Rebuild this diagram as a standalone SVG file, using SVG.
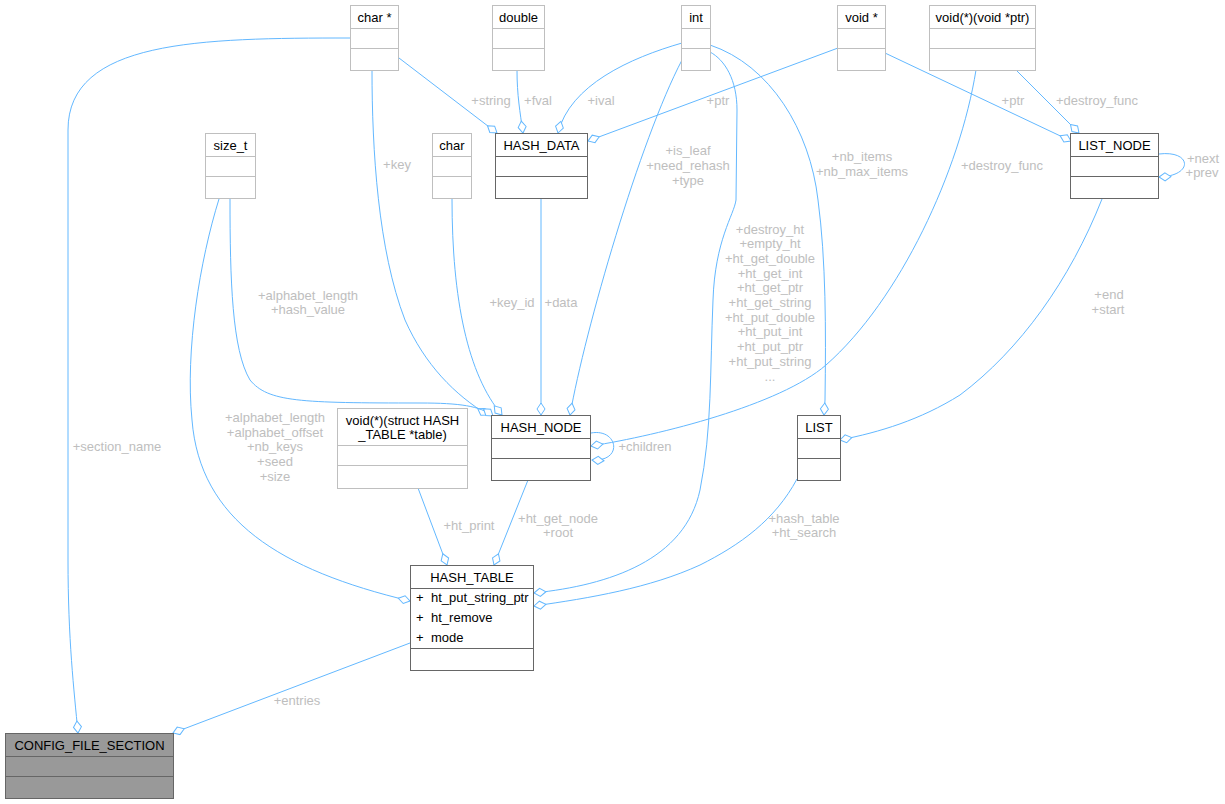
<svg xmlns="http://www.w3.org/2000/svg" width="1225" height="804" viewBox="0 0 1225 804">
<style>
.bg{fill:#ffffff}
.ext rect{fill:#ffffff;stroke:#bfbfbf;stroke-width:1}
.ext line{stroke:#bfbfbf;stroke-width:1}
.cls rect{fill:#ffffff;stroke:#666666;stroke-width:1}
.cls line{stroke:#666666;stroke-width:1}
.main rect{fill:#999999;stroke:#666666;stroke-width:1}
.main line{stroke:#666666;stroke-width:1}
text{font-family:"Liberation Sans",Arial,sans-serif;font-size:13px}
.t{fill:#000000;text-anchor:middle}
.m{fill:#000000}
.edges path{fill:none;stroke:#63b8ff;stroke-width:1;marker-end:url(#od)}
.lbl{fill:#bebebe;text-anchor:middle}
</style>
<defs>
<marker id="od" markerUnits="userSpaceOnUse" markerWidth="16" markerHeight="10" viewBox="0 0 16 10" refX="14" refY="5" orient="auto">
<path d="M2,5 L8,1 L14,5 L8,9 Z" fill="#ffffff" stroke="#63b8ff" stroke-width="1"/>
</marker>
</defs>
<rect class="bg" x="0" y="0" width="1225" height="804"/>

<g id="edges" class="edges">
<path d="M350,38 C200,38 68,40 68,130 L68,560 C68,640 74,690 78,733"/>
<path d="M399,58 L497,133"/>
<path d="M517,70 C517,95 520,112 523,133"/>
<path d="M682,43 C630,58 570,85 558,133"/>
<path d="M838,48 L588,141"/>
<path d="M372,70 C372,150 378,250 405,320 C425,365 455,395 488,415"/>
<path d="M452,199 C452,300 468,375 502,415"/>
<path d="M541,199 L541,415"/>
<path d="M682,60 C640,140 585,330 570,415"/>
<path d="M710,52 C725,60 737,80 737,110 L736,200 C734,215 715,240 713,300 C710,370 712,430 700,490 C685,560 610,585 534,593"/>
<path d="M710,45 C770,65 810,130 818,200 C826,260 826,330 825,400 L824,415"/>
<path d="M885,53 L1071,141"/>
<path d="M1016,70 L1079,133"/>
<path d="M976,70 C960,170 900,300 826,365 C780,405 660,435 591,446"/>
<path d="M591,433 C618,428 624,462 592,460"/>
<path d="M1159,154 C1192,150 1194,176 1159,177"/>
<path d="M1102,199 C1070,280 1020,350 960,395 C920,420 880,432 840,440"/>
<path d="M230,199 C230,280 232,350 250,380 C268,402 300,403 420,403 C460,403 480,406 493,416"/>
<path d="M219,199 C200,260 185,350 192,420 C200,520 280,570 410,601"/>
<path d="M418,488 L447,565"/>
<path d="M528,480 L494,565"/>
<path d="M797,479 C775,520 740,545 700,565 C650,588 590,598 534,606"/>
<path d="M410,643 L173,733"/>
</g>

<g id="labels">
<text class="lbl" x="117" y="451">+section_name</text>
<text class="lbl" x="491" y="105">+string</text>
<text class="lbl" x="538" y="105">+fval</text>
<text class="lbl" x="601" y="105">+ival</text>
<text class="lbl" x="718" y="105">+ptr</text>
<text class="lbl" x="1013" y="105">+ptr</text>
<text class="lbl" x="1097" y="105">+destroy_func</text>
<text class="lbl" x="397" y="169">+key</text>
<text class="lbl" x="688" y="154.5">+is_leaf</text>
<text class="lbl" x="688" y="169.5">+need_rehash</text>
<text class="lbl" x="688" y="184.5">+type</text>
<text class="lbl" x="862" y="161">+nb_items</text>
<text class="lbl" x="862" y="176">+nb_max_items</text>
<text class="lbl" x="1002" y="169.5">+destroy_func</text>
<text class="lbl" x="1203" y="162.5">+next</text>
<text class="lbl" x="1202" y="177">+prev</text>
<text class="lbl" x="308" y="299.5">+alphabet_length</text>
<text class="lbl" x="308" y="314">+hash_value</text>
<text class="lbl" x="512" y="306.5">+key_id</text>
<text class="lbl" x="561" y="306.5">+data</text>
<text class="lbl" x="770" y="233.5">+destroy_ht</text>
<text class="lbl" x="770" y="248.2">+empty_ht</text>
<text class="lbl" x="770" y="262.9">+ht_get_double</text>
<text class="lbl" x="770" y="277.6">+ht_get_int</text>
<text class="lbl" x="770" y="292.3">+ht_get_ptr</text>
<text class="lbl" x="770" y="307">+ht_get_string</text>
<text class="lbl" x="770" y="321.7">+ht_put_double</text>
<text class="lbl" x="770" y="336.4">+ht_put_int</text>
<text class="lbl" x="770" y="351.1">+ht_put_ptr</text>
<text class="lbl" x="770" y="365.8">+ht_put_string</text>
<text class="lbl" x="770" y="380.5">...</text>
<text class="lbl" x="1109" y="299">+end</text>
<text class="lbl" x="1108" y="314">+start</text>
<text class="lbl" x="275" y="422">+alphabet_length</text>
<text class="lbl" x="275" y="436.5">+alphabet_offset</text>
<text class="lbl" x="275" y="451">+nb_keys</text>
<text class="lbl" x="275" y="465.5">+seed</text>
<text class="lbl" x="275" y="480.5">+size</text>
<text class="lbl" x="645" y="451">+children</text>
<text class="lbl" x="469" y="530">+ht_print</text>
<text class="lbl" x="558" y="522.8">+ht_get_node</text>
<text class="lbl" x="558" y="537.2">+root</text>
<text class="lbl" x="804" y="522.5">+hash_table</text>
<text class="lbl" x="804" y="537">+ht_search</text>
<text class="lbl" x="297" y="705">+entries</text>
</g>

<g id="node-char-ptr" class="ext">
<rect x="350.5" y="5.5" width="48" height="65"/>
<line x1="350.5" y1="28.5" x2="398.5" y2="28.5"/>
<line x1="350.5" y1="48.5" x2="398.5" y2="48.5"/>
<text class="t" x="374.5" y="22">char *</text>
</g>
<g id="node-double" class="ext">
<rect x="492.5" y="5.5" width="52" height="65"/>
<line x1="492.5" y1="28.5" x2="544.5" y2="28.5"/>
<line x1="492.5" y1="48.5" x2="544.5" y2="48.5"/>
<text class="t" x="518.5" y="22">double</text>
</g>
<g id="node-int" class="ext">
<rect x="681.5" y="5.5" width="29" height="65"/>
<line x1="681.5" y1="28.5" x2="710.5" y2="28.5"/>
<line x1="681.5" y1="48.5" x2="710.5" y2="48.5"/>
<text class="t" x="696" y="22">int</text>
</g>
<g id="node-void-ptr" class="ext">
<rect x="837.5" y="5.5" width="48" height="65"/>
<line x1="837.5" y1="28.5" x2="885.5" y2="28.5"/>
<line x1="837.5" y1="48.5" x2="885.5" y2="48.5"/>
<text class="t" x="861.5" y="22">void *</text>
</g>
<g id="node-void-fn-ptr" class="ext">
<rect x="929.5" y="5.5" width="106" height="65"/>
<line x1="929.5" y1="28.5" x2="1035.5" y2="28.5"/>
<line x1="929.5" y1="48.5" x2="1035.5" y2="48.5"/>
<text class="t" x="982.5" y="22">void(*)(void *ptr)</text>
</g>
<g id="node-size-t" class="ext">
<rect x="205.5" y="133.5" width="50" height="65"/>
<line x1="205.5" y1="156.5" x2="255.5" y2="156.5"/>
<line x1="205.5" y1="176.5" x2="255.5" y2="176.5"/>
<text class="t" x="230.5" y="150">size_t</text>
</g>
<g id="node-char" class="ext">
<rect x="432.5" y="133.5" width="39" height="65"/>
<line x1="432.5" y1="156.5" x2="471.5" y2="156.5"/>
<line x1="432.5" y1="176.5" x2="471.5" y2="176.5"/>
<text class="t" x="452" y="150">char</text>
</g>
<g id="node-HASH_DATA" class="cls">
<rect x="495.5" y="133.5" width="92" height="65"/>
<line x1="495.5" y1="156.5" x2="587.5" y2="156.5"/>
<line x1="495.5" y1="176.5" x2="587.5" y2="176.5"/>
<text class="t" x="541.5" y="150">HASH_DATA</text>
</g>
<g id="node-LIST_NODE" class="cls">
<rect x="1070.5" y="133.5" width="88" height="65"/>
<line x1="1070.5" y1="156.5" x2="1158.5" y2="156.5"/>
<line x1="1070.5" y1="176.5" x2="1158.5" y2="176.5"/>
<text class="t" x="1114.5" y="150">LIST_NODE</text>
</g>
<g id="node-print-fn" class="ext">
<rect x="337.5" y="408.5" width="130" height="80"/>
<line x1="337.5" y1="445.5" x2="467.5" y2="445.5"/>
<line x1="337.5" y1="465.5" x2="467.5" y2="465.5"/>
<text class="t" x="402.5" y="425">void(*)(struct HASH</text>
<text class="t" x="402.5" y="439">_TABLE *table)</text>
</g>
<g id="node-HASH_NODE" class="cls">
<rect x="491.5" y="415.5" width="99" height="65"/>
<line x1="491.5" y1="438.5" x2="590.5" y2="438.5"/>
<line x1="491.5" y1="458.5" x2="590.5" y2="458.5"/>
<text class="t" x="541" y="432">HASH_NODE</text>
</g>
<g id="node-LIST" class="cls">
<rect x="797.5" y="415.5" width="43" height="65"/>
<line x1="797.5" y1="438.5" x2="840.5" y2="438.5"/>
<line x1="797.5" y1="458.5" x2="840.5" y2="458.5"/>
<text class="t" x="819" y="432">LIST</text>
</g>
<g id="node-HASH_TABLE" class="cls">
<rect x="410.5" y="565.5" width="123" height="105"/>
<line x1="410.5" y1="588.5" x2="533.5" y2="588.5"/>
<line x1="410.5" y1="648.5" x2="533.5" y2="648.5"/>
<text class="t" x="472" y="582">HASH_TABLE</text>
<text class="m" x="416" y="601.5">+</text>
<text class="m" x="431" y="601.5">ht_put_string_ptr</text>
<text class="m" x="416" y="621.5">+</text>
<text class="m" x="431" y="621.5">ht_remove</text>
<text class="m" x="416" y="641.5">+</text>
<text class="m" x="431" y="641.5">mode</text>
</g>
<g id="node-CONFIG_FILE_SECTION" class="main">
<rect x="5.5" y="733.5" width="168" height="65"/>
<line x1="5.5" y1="756.5" x2="173.5" y2="756.5"/>
<line x1="5.5" y1="776.5" x2="173.5" y2="776.5"/>
<text class="t" x="89.5" y="750">CONFIG_FILE_SECTION</text>
</g>
</svg>
